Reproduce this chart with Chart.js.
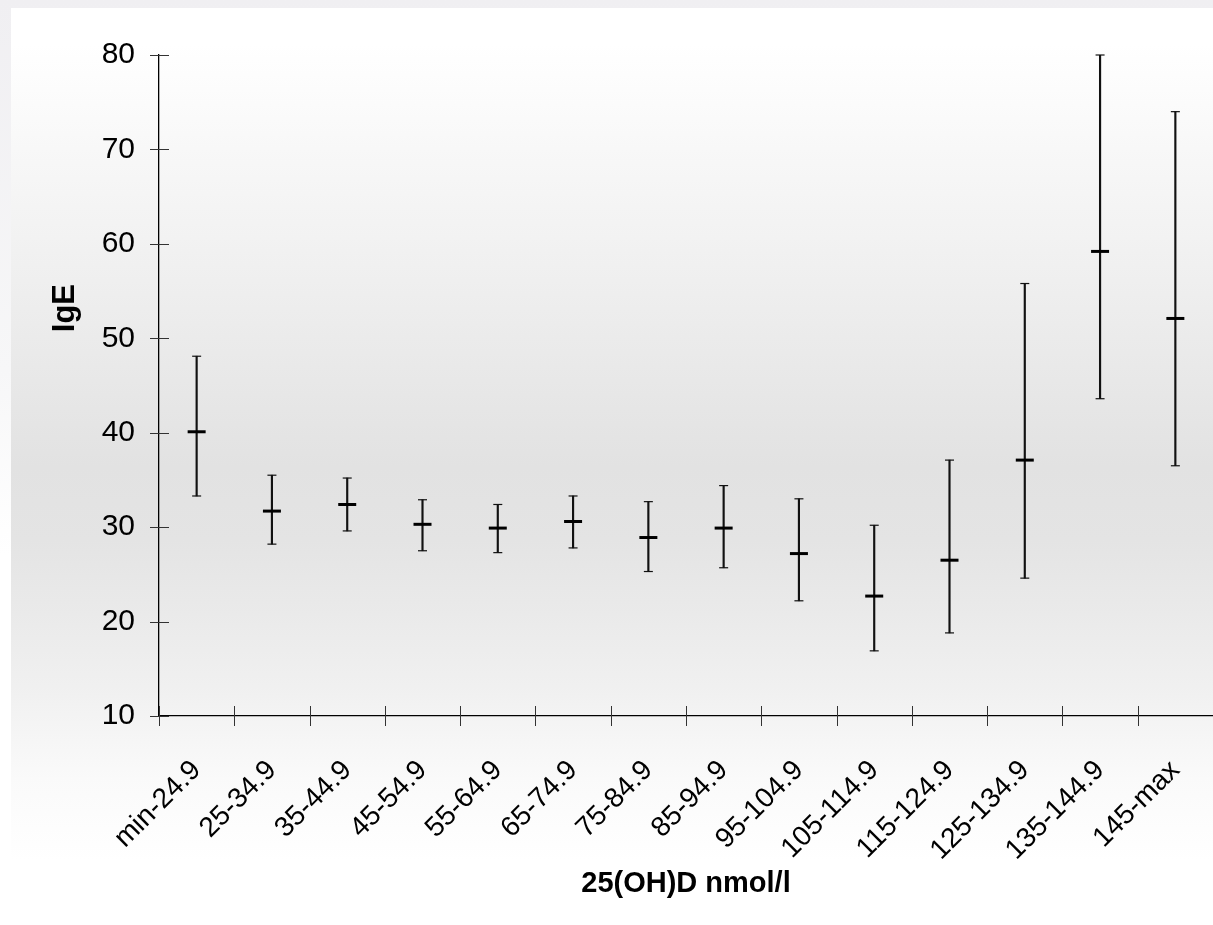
<!DOCTYPE html>
<html>
<head>
<meta charset="utf-8">
<script src="https://cdn.jsdelivr.net/npm/chart.js@4.4.1/dist/chart.umd.min.js"></script>
<style>
  html, body { margin: 0; padding: 0; }
  body {
    width: 1213px; height: 925px; overflow: hidden;
    background: linear-gradient(to bottom, #f0eff2 0%, #f7f7f8 40%, #ffffff 60%);
    font-family: 'Liberation Sans', Arial, sans-serif;
  }
  #wrap {
    position: absolute; left: 11px; top: 8px; width: 1202px; height: 917px;
    background: linear-gradient(to bottom, #ffffff 4%, #f2f2f2 25%, #e2e2e2 50%, #e4e4e4 58%, #f0f0f0 74%, #fafafa 84%, #ffffff 93%);
  }
</style>
</head>
<body>
<div id="wrap"><canvas id="chart" width="1202" height="917"></canvas></div>
<script>
// 25(OH)D bands and IgE mean with 95% CI
const categories = ['min-24.9', '25-34.9', '35-44.9', '45-54.9', '55-64.9', '65-74.9', '75-84.9',
                    '85-94.9', '95-104.9', '105-114.9', '115-124.9', '125-134.9', '135-144.9', '145-max'];
const means = [40.1, 31.7, 32.4, 30.3, 29.9, 30.6, 28.9, 29.9, 27.2, 22.7, 26.5, 37.1, 59.2, 52.1];
const lows  = [33.3, 28.2, 29.6, 27.5, 27.3, 27.8, 25.3, 25.7, 22.2, 16.9, 18.8, 24.6, 43.6, 36.5];
const highs = [48.1, 35.5, 35.2, 32.9, 32.4, 33.3, 32.7, 34.4, 33.0, 30.2, 37.1, 55.8, 80.0, 74.0];
const yTicks = [10, 20, 30, 40, 50, 60, 70, 80];

const FONT = "'Liberation Sans', Arial, sans-serif";

// tick marks that cross the axis lines, plus the y title
const crossTicks = {
  id: 'crossTicks',
  afterDraw(chart) {
    const { ctx, chartArea, scales: { x, y } } = chart;
    ctx.save();
    ctx.strokeStyle = '#333';
    ctx.lineWidth = 1;
    ctx.beginPath();
    yTicks.forEach(v => {
      const py = Math.round(y.getPixelForValue(v)) + 0.5;
      ctx.moveTo(chartArea.left - 9, py);
      ctx.lineTo(chartArea.left + 10, py);
    });
    const step = x.getPixelForValue(1) - x.getPixelForValue(0);
    for (let i = 0; i <= categories.length; i++) {
      const px = Math.round(x.getPixelForValue(i) - step / 2) + 0.5;
      ctx.moveTo(px, chartArea.bottom - 10);
      ctx.lineTo(px, chartArea.bottom + 10);
    }
    ctx.stroke();

    ctx.fillStyle = '#000';
    ctx.font = 'bold 31px ' + FONT;
    ctx.textAlign = 'center';
    ctx.textBaseline = 'middle';
    ctx.translate(54, y.getPixelForValue(53.2));
    ctx.rotate(-Math.PI / 2);
    ctx.fillText('IgE', 0, 0);
    ctx.restore();
  }
};

new Chart(document.getElementById('chart'), {
  type: 'bar',
  data: {
    labels: categories,
    datasets: [
      {
        type: 'line',
        data: means,
        showLine: false,
        pointStyle: 'line',
        pointRadius: 9,
        pointBorderWidth: 3,
        borderColor: '#000',
        clip: false,
        order: 0,
      },
      {
        type: 'line',
        data: lows,
        showLine: false,
        pointStyle: 'line',
        pointRadius: 4.5,
        pointBorderWidth: 1.2,
        borderColor: '#111',
        clip: false,
        order: 1,
      },
      {
        type: 'line',
        data: highs,
        showLine: false,
        pointStyle: 'line',
        pointRadius: 4.5,
        pointBorderWidth: 1.2,
        borderColor: '#111',
        clip: false,
        order: 1,
      },
      {
        type: 'bar',
        data: lows.map((lo, i) => [lo, highs[i]]),
        backgroundColor: '#111',
        barThickness: 1.5,
        order: 2,
      },
    ],
  },
  options: {
    responsive: false,
    animation: false,
    layout: { autoPadding: false, padding: { top: 47, right: 0, left: 0, bottom: 0 } },
    plugins: {
      legend: { display: false },
      tooltip: { enabled: false },
    },
    scales: {
      x: {
        offset: true,
        grid: { display: false },
        border: { display: true, color: '#000', width: 1.3 },
        ticks: {
          color: '#000',
          font: { family: FONT, size: 28 },
          minRotation: 45,
          maxRotation: 45,
          padding: 30,
        },
        title: {
          display: true,
          text: '25(OH)D nmol/l',
          color: '#000',
          font: { family: FONT, size: 29, weight: 'bold' },
          padding: { top: 0, bottom: 24 },
        },
        afterFit: s => {
          s.height = 209;
          s.paddingLeft = 0;
          s.paddingRight = 0;
        },
      },
      y: {
        min: 10,
        max: 80,
        grid: { display: false },
        border: { display: true, color: '#000', width: 1.3 },
        ticks: {
          stepSize: 10,
          color: '#000',
          font: { family: FONT, size: 30 },
          padding: 16,
        },
        afterFit: s => { s.width = 148; },
      },
    },
  },
  plugins: [crossTicks],
});
</script>
</body>
</html>
